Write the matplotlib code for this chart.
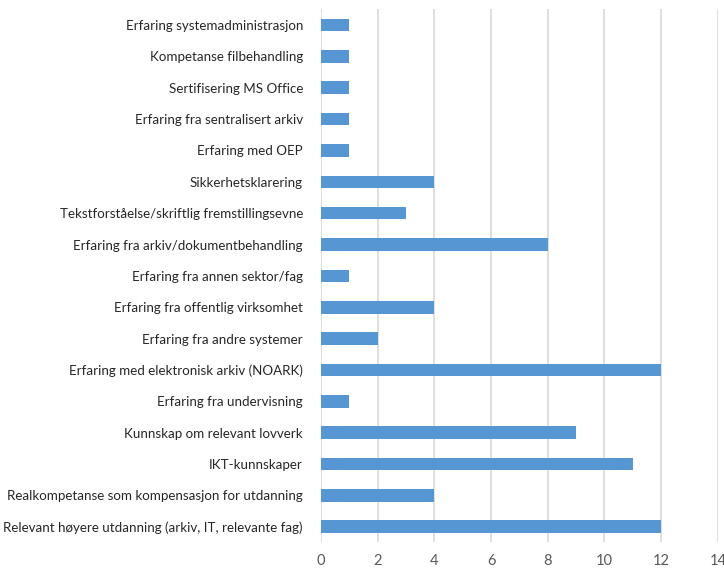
import matplotlib
matplotlib.use("Agg")
import matplotlib.pyplot as plt

# competence categories, top to bottom as drawn
categories = [
    "Erfaring systemadministrasjon",
    "Kompetanse filbehandling",
    "Sertifisering MS Office",
    "Erfaring fra sentralisert arkiv",
    "Erfaring med OEP",
    "Sikkerhetsklarering",
    "Tekstforståelse/skriftlig fremstillingsevne",
    "Erfaring fra arkiv/dokumentbehandling",
    "Erfaring fra annen sektor/fag",
    "Erfaring fra offentlig virksomhet",
    "Erfaring fra andre systemer",
    "Erfaring med elektronisk arkiv (NOARK)",
    "Erfaring fra undervisning",
    "Kunnskap om relevant lovverk",
    "IKT-kunnskaper",
    "Realkompetanse som kompensasjon for utdanning",
    "Relevant høyere utdanning (arkiv, IT, relevante fag)",
]
counts = [1, 1, 1, 1, 1, 4, 3, 8, 1, 4, 2, 12, 1, 9, 11, 4, 12]
xticks = [0, 2, 4, 6, 8, 10, 12, 14]

plt.rcParams['font.family'] = ['Lato', 'DejaVu Sans']

fig = plt.figure(figsize=(7.24, 5.68), dpi=100)
ax = fig.add_axes([0.4434, 0.045, 0.5480, 0.9385])

pos = list(range(len(categories)))
ax.barh(pos, counts, height=0.4, color="#5596d3", zorder=3)

ax.set_ylim(len(categories) - 0.5, -0.5)
ax.set_xlim(0, 14)
ax.set_yticks(pos)
ax.set_yticklabels(categories, fontsize=9.6, color="#262626")
ax.set_xticks(xticks)
ax.set_xticklabels([str(t) for t in xticks], fontsize=10.5, color="#595959")

ax.grid(axis="x", color="#d9d9d9", linewidth=1.2, zorder=0)
for s in ax.spines.values():
    s.set_visible(False)
ax.tick_params(axis="both", length=0)
ax.tick_params(axis="y", pad=13)
ax.tick_params(axis="x", pad=8)

fig.savefig("out.png", dpi=100)
